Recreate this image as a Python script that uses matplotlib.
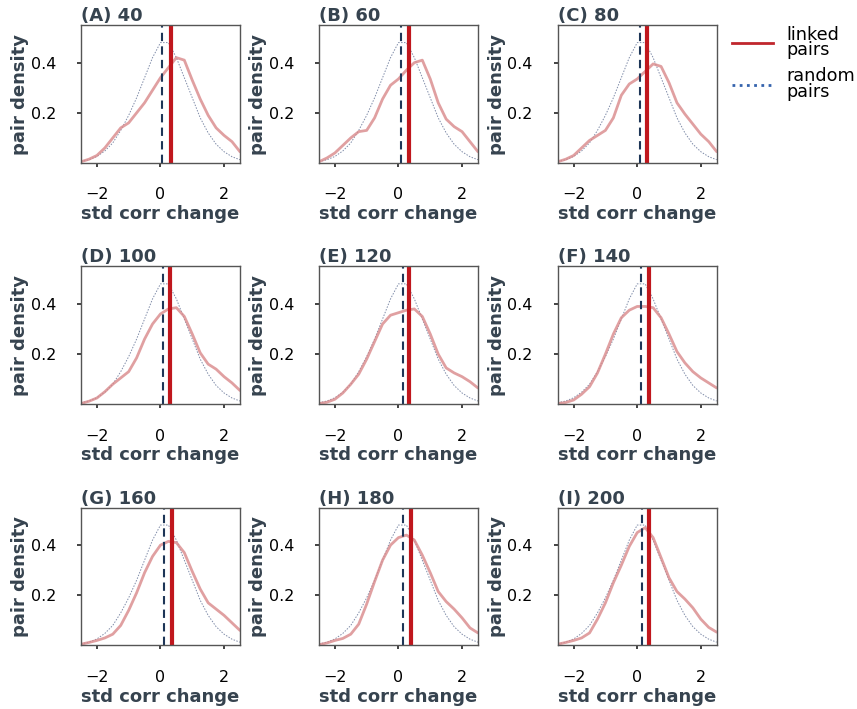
import matplotlib
matplotlib.use("Agg")
import matplotlib.pyplot as plt

# grid of std corr change values where the densities were read
X = [-2.5, -2.25, -2.0, -1.75, -1.5, -1.25, -1.0, -0.75, -0.5, -0.25, 0.0,
     0.25, 0.5, 0.75, 1.0, 1.25, 1.5, 1.75, 2.0, 2.25, 2.5]

PANELS = ["(A) 40", "(B) 60", "(C) 80", "(D) 100", "(E) 120",
          "(F) 140", "(G) 160", "(H) 180", "(I) 200"]

# random-pair density (same shape in every panel)
RANDOM = [0.006, 0.013, 0.026, 0.048, 0.08, 0.13, 0.19, 0.26, 0.34, 0.42, 0.48,
          0.48, 0.42, 0.34, 0.26, 0.18, 0.12, 0.075, 0.045, 0.025, 0.013]

# linked-pair densities per panel
LINKED_A = [0.005, 0.015, 0.03, 0.06, 0.10, 0.14, 0.16, 0.20, 0.24, 0.29, 0.34,
            0.38, 0.42, 0.41, 0.33, 0.255, 0.19, 0.14, 0.11, 0.085, 0.045]
LINKED_B = [0.005, 0.02, 0.04, 0.07, 0.10, 0.125, 0.13, 0.18, 0.255, 0.31, 0.335,
            0.37, 0.40, 0.41, 0.335, 0.24, 0.175, 0.145, 0.125, 0.085, 0.045]
LINKED_C = [0.005, 0.015, 0.03, 0.06, 0.09, 0.11, 0.13, 0.18, 0.27, 0.315, 0.335,
            0.365, 0.395, 0.385, 0.32, 0.24, 0.195, 0.155, 0.115, 0.085, 0.045]
LINKED_D = [0.003, 0.012, 0.025, 0.05, 0.08, 0.105, 0.13, 0.185, 0.26, 0.32, 0.36,
            0.38, 0.385, 0.35, 0.28, 0.205, 0.16, 0.14, 0.11, 0.085, 0.055]
LINKED_E = [0.003, 0.008, 0.02, 0.045, 0.08, 0.12, 0.18, 0.25, 0.32, 0.355, 0.365,
            0.375, 0.38, 0.35, 0.28, 0.20, 0.145, 0.125, 0.11, 0.09, 0.065]
LINKED_F = [0.003, 0.007, 0.017, 0.04, 0.07, 0.125, 0.20, 0.28, 0.345, 0.375, 0.39,
            0.39, 0.385, 0.345, 0.28, 0.21, 0.165, 0.13, 0.105, 0.085, 0.065]
LINKED_G = [0.005, 0.012, 0.02, 0.03, 0.045, 0.08, 0.14, 0.21, 0.29, 0.355, 0.40,
            0.415, 0.41, 0.37, 0.295, 0.225, 0.17, 0.145, 0.12, 0.09, 0.06]
LINKED_H = [0.003, 0.01, 0.02, 0.028, 0.045, 0.085, 0.165, 0.255, 0.34, 0.40, 0.43,
            0.44, 0.42, 0.36, 0.29, 0.215, 0.175, 0.145, 0.11, 0.07, 0.05]
LINKED_I = [0.005, 0.012, 0.02, 0.03, 0.05, 0.105, 0.17, 0.25, 0.32, 0.395, 0.45,
            0.47, 0.43, 0.35, 0.27, 0.215, 0.185, 0.15, 0.105, 0.072, 0.053]
LINKED = [LINKED_A, LINKED_B, LINKED_C, LINKED_D, LINKED_E,
          LINKED_F, LINKED_G, LINKED_H, LINKED_I]

# mean markers (linked / random)
LINKED_MEAN = [0.33, 0.33, 0.32, 0.31, 0.34, 0.36, 0.37, 0.39, 0.38]
RANDOM_MEAN = [0.06, 0.07, 0.08, 0.09, 0.13, 0.12, 0.12, 0.15, 0.14]

LABEL_C = "#36434f"
LEFTS = [0.0945, 0.3722, 0.6508]
BOTTOMS = [0.7701, 0.4298, 0.0896]
W, H = 0.1855, 0.1946

fig = plt.figure(figsize=(8.57, 7.09), dpi=100)

for i, title in enumerate(PANELS):
    r, c = divmod(i, 3)
    ax = fig.add_axes([LEFTS[c], BOTTOMS[r], W, H])
    ax.plot(X, RANDOM, ls=(0, (1.5, 1.5)), color="#7f8ba8", lw=0.7)
    ax.plot(X, LINKED[i], color="#d9888a", lw=2, alpha=0.8, solid_capstyle="round")
    ax.axvline(RANDOM_MEAN[i], color="#1d3557", lw=1.5, ls=(0, (4, 2.5)))
    ax.axvline(LINKED_MEAN[i], color="#c0171d", lw=3)
    ax.set_xlim(-2.5, 2.5)
    ax.set_ylim(0, 0.55)
    ax.set_xticks([-2, 0, 2])
    ax.set_yticks([0.2, 0.4])
    ax.set_xticklabels(["\u22122", "0", "2"])
    ax.tick_params(labelsize=11.5, length=3, width=1.2, color="#222222")
    ax.tick_params(axis="x", pad=14.5)
    ax.tick_params(axis="y", pad=15)
    for s in ax.spines.values():
        s.set_color("#555555")
        s.set_linewidth(1.0)
    ax.set_title(title, loc="left", fontsize=13, fontweight="bold", color=LABEL_C, pad=2)
    ax.set_xlabel("std corr change", fontsize=13, fontweight="bold", color=LABEL_C, labelpad=2)
    ax.set_ylabel("pair density", fontsize=13, fontweight="bold", color=LABEL_C, labelpad=1)

h1, = plt.plot([], [], color="#c0262d", lw=2)
h2, = plt.plot([], [], color="#3563ad", lw=2, ls=(0, (1, 1.6)))
leg = fig.legend([h1, h2], ["linked\npairs", "random\npairs"], loc="upper left",
                 bbox_to_anchor=(0.836, 0.986), frameon=False, fontsize=12.7,
                 handlelength=2.3, labelspacing=0.45, handletextpad=0.75)
for t in leg.get_texts():
    t.set_linespacing(0.82)

fig.savefig("out.png", dpi=100)
